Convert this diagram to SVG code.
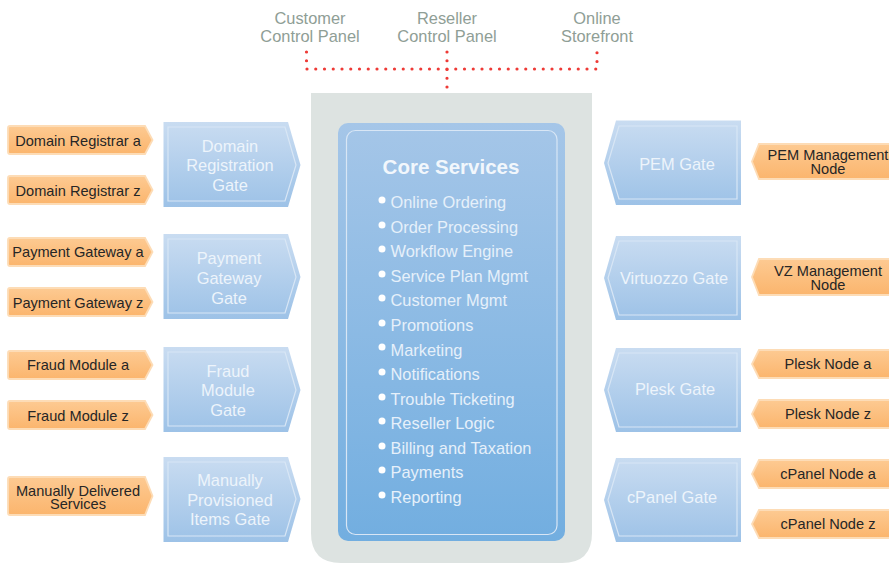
<svg xmlns="http://www.w3.org/2000/svg" width="889" height="563" viewBox="0 0 889 563">
<style>
text{font-family:"Liberation Sans",Arial,sans-serif;text-anchor:middle}
.top{font-size:16.4px;fill:#8f9e96}
.gt{font-size:16.4px;fill:#edf4fb}
.ot{font-size:14.6px;fill:#262626}
.li{font-size:16.4px;fill:#e6f0fa;text-anchor:start}
.dot{fill:#fff}
.gate{fill:url(#gb)}
.gi{fill:none;stroke:#d8e6f5;stroke-width:1.2}
.org{fill:url(#go);stroke:#fddcb6;stroke-width:1.8}
</style>
<defs>
<linearGradient id="gb" x1="0" y1="0" x2="0" y2="1"><stop offset="0" stop-color="#c9dcf1"/><stop offset="1" stop-color="#9dc2e7"/></linearGradient>
<linearGradient id="go" x1="0" y1="0" x2="0" y2="1"><stop offset="0" stop-color="#fdca92"/><stop offset="1" stop-color="#fbb56d"/></linearGradient>
<linearGradient id="gc" x1="0" y1="0" x2="0" y2="1"><stop offset="0" stop-color="#a5c6e8"/><stop offset="1" stop-color="#72aee0"/></linearGradient>
</defs>
<path d="M311 93H592V533Q592 563 562 563H341Q311 563 311 533Z" fill="#dde3e1"/>
<g id="connectors" fill="none" stroke="#ee3a36" stroke-width="3.2" stroke-linecap="round" stroke-dasharray="0 8.75">
<path d="M306.500 52V69H597V52"/>
<path d="M447 52V87.500"/>
</g>
<g id="customer-panel"><text class="top" x="310" y="24">Customer</text><text class="top" x="310" y="42">Control Panel</text></g>
<g id="reseller-panel"><text class="top" x="447" y="24">Reseller</text><text class="top" x="447" y="42">Control Panel</text></g>
<g id="online-storefront"><text class="top" x="597" y="24">Online</text><text class="top" x="597" y="42">Storefront</text></g>
<g id="core-services">
<rect x="338" y="123" width="227" height="418" rx="10" fill="url(#gc)"/>
<rect x="346.500" y="130.500" width="210.500" height="404" rx="9" fill="none" stroke="#d8e6f5" stroke-width="1.2"/>
<text x="451" y="174" font-size="20.500" font-weight="bold" fill="#f2f7fc">Core Services</text>
<text class="li" x="390.500" y="208">Online Ordering</text><circle class="dot" cx="382" cy="200" r="3.500"/>
<text class="li" x="390.500" y="233">Order Processing</text><circle class="dot" cx="382" cy="225" r="3.500"/>
<text class="li" x="390.500" y="257">Workflow Engine</text><circle class="dot" cx="382" cy="249" r="3.500"/>
<text class="li" x="390.500" y="282">Service Plan Mgmt</text><circle class="dot" cx="382" cy="274" r="3.500"/>
<text class="li" x="390.500" y="306">Customer Mgmt</text><circle class="dot" cx="382" cy="298" r="3.500"/>
<text class="li" x="390.500" y="331">Promotions</text><circle class="dot" cx="382" cy="323" r="3.500"/>
<text class="li" x="390.500" y="356">Marketing</text><circle class="dot" cx="382" cy="347" r="3.500"/>
<text class="li" x="390.500" y="380">Notifications</text><circle class="dot" cx="382" cy="372" r="3.500"/>
<text class="li" x="390.500" y="405">Trouble Ticketing</text><circle class="dot" cx="382" cy="397" r="3.500"/>
<text class="li" x="390.500" y="429">Reseller Logic</text><circle class="dot" cx="382" cy="421" r="3.500"/>
<text class="li" x="390.500" y="454">Billing and Taxation</text><circle class="dot" cx="382" cy="446" r="3.500"/>
<text class="li" x="390.500" y="478">Payments</text><circle class="dot" cx="382" cy="470" r="3.500"/>
<text class="li" x="390.500" y="503">Reporting</text><circle class="dot" cx="382" cy="495" r="3.500"/>
</g>
<g id="domain-gate"><path class="gate" d="M163.500 122H288L300.500 165L288 207H163.500Z"/><path class="gi" d="M168 127H285L296 165L285 201H168Z"/><text class="gt" x="230" y="152">Domain</text><text class="gt" x="230" y="171">Registration</text><text class="gt" x="230" y="191">Gate</text></g>
<g id="payment-gate"><path class="gate" d="M163.500 234H288L300.500 277L288 319H163.500Z"/><path class="gi" d="M168 239H285L296 277L285 313H168Z"/><text class="gt" x="229" y="264">Payment</text><text class="gt" x="229" y="284">Gateway</text><text class="gt" x="229" y="304">Gate</text></g>
<g id="fraud-gate"><path class="gate" d="M163.500 347H288L300.500 390L288 432H163.500Z"/><path class="gi" d="M168 352H285L296 390L285 426H168Z"/><text class="gt" x="228" y="377">Fraud</text><text class="gt" x="228" y="396">Module</text><text class="gt" x="228" y="416">Gate</text></g>
<g id="manual-gate"><path class="gate" d="M163.500 457H288L300.500 499L288 542H163.500Z"/><path class="gi" d="M168 462H285L296 499L285 536H168Z"/><text class="gt" x="230" y="486">Manually</text><text class="gt" x="230" y="506">Provisioned</text><text class="gt" x="230" y="525">Items Gate</text></g>
<g id="pem-gate"><path class="gate" d="M741 120.500H616L604 163L616 205H741Z"/><path class="gi" d="M737 126H619L608 163L619 199H737Z"/><text class="gt" x="677" y="170">PEM Gate</text></g>
<g id="virtuozzo-gate"><path class="gate" d="M741 236H616L604 278L616 320H741Z"/><path class="gi" d="M737 241H619L608 278L619 315H737Z"/><text class="gt" x="674" y="284">Virtuozzo Gate</text></g>
<g id="plesk-gate"><path class="gate" d="M741 348H616L604 390L616 432H741Z"/><path class="gi" d="M737 353H619L608 390L619 427H737Z"/><text class="gt" x="675" y="395">Plesk Gate</text></g>
<g id="cpanel-gate"><path class="gate" d="M741 458H616L604 500L616 542H741Z"/><path class="gi" d="M737 463H619L608 500L619 536H737Z"/><text class="gt" x="672" y="503">cPanel Gate</text></g>
<g id="domain-a"><path class="org" d="M10 126H145L152.500 140L145 154H10Q8 154 8 152V128Q8 126 10 126Z"/><text class="ot" x="78" y="146">Domain Registrar a</text></g>
<g id="domain-z"><path class="org" d="M10 176H145L152.500 190L145 204H10Q8 204 8 202V178Q8 176 10 176Z"/><text class="ot" x="78" y="196">Domain Registrar z</text></g>
<g id="payment-a"><path class="org" d="M10 238H145L152.500 252L145 266H10Q8 266 8 264V240Q8 238 10 238Z"/><text class="ot" x="78" y="257">Payment Gateway a</text></g>
<g id="payment-z"><path class="org" d="M10 288H145L152.500 302L145 316H10Q8 316 8 314V290Q8 288 10 288Z"/><text class="ot" x="78" y="308">Payment Gateway z</text></g>
<g id="fraud-a"><path class="org" d="M10 351H145L152.500 365L145 379H10Q8 379 8 377V353Q8 351 10 351Z"/><text class="ot" x="78" y="370">Fraud Module a</text></g>
<g id="fraud-z"><path class="org" d="M10 401H145L152.500 415L145 429H10Q8 429 8 427V403Q8 401 10 401Z"/><text class="ot" x="78" y="421">Fraud Module z</text></g>
<g id="manual-services"><path class="org" d="M10 477H145L152.500 496L145 515H10Q8 515 8 513V479Q8 477 10 477Z"/><text class="ot" y="496"><tspan x="78">Manually Delivered</tspan><tspan x="78" dy="13">Services</tspan></text></g>
<g id="pem-node"><path class="org" d="M889 144H759L752 161.500L759 179H889"/><text class="ot" y="160"><tspan x="828">PEM Management</tspan><tspan x="828" dy="14">Node</tspan></text></g>
<g id="vz-node"><path class="org" d="M889 259H759L752 277L759 295H889"/><text class="ot" y="276"><tspan x="828">VZ Management</tspan><tspan x="828" dy="14">Node</tspan></text></g>
<g id="plesk-a"><path class="org" d="M889 350H759L752 364L759 378H889"/><text class="ot" x="828" y="369">Plesk Node a</text></g>
<g id="plesk-z"><path class="org" d="M889 400H759L752 414L759 428H889"/><text class="ot" x="828" y="419">Plesk Node z</text></g>
<g id="cpanel-a"><path class="org" d="M889 460H759L752 474L759 488H889"/><text class="ot" x="828" y="479">cPanel Node a</text></g>
<g id="cpanel-z"><path class="org" d="M889 510H759L752 524L759 538H889"/><text class="ot" x="828" y="529">cPanel Node z</text></g>
</svg>
